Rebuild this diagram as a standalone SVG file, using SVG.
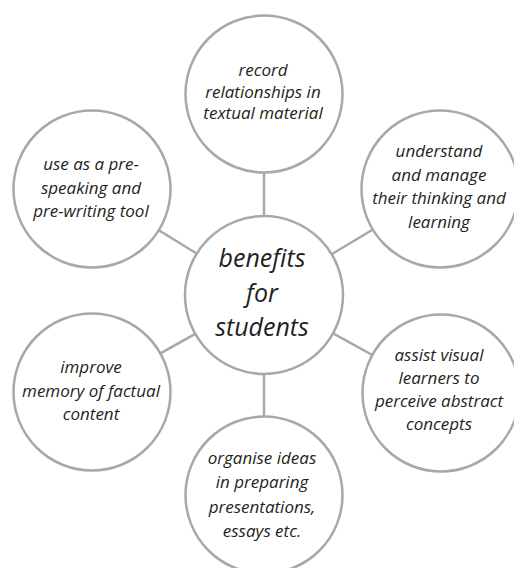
<svg xmlns="http://www.w3.org/2000/svg" width="514" height="568" viewBox="0 0 514 568">
<style>
.c{fill:#ffffff;stroke:#a7a8ab;stroke-width:2.5}
.l{stroke:#a7a8ab;stroke-width:2.5;fill:none}
.t{font-family:"Open Sans","Noto Sans",sans-serif;font-style:italic;font-size:17px;fill:#231f20;text-anchor:middle}
.m{font-size:25px}
</style>
<rect width="514" height="568" fill="#ffffff"/>
<g id="connectors">
<line class="l" x1="264" y1="216" x2="264" y2="172.5"/>
<line class="l" x1="196.7" y1="253.5" x2="158.8" y2="230.2"/>
<line class="l" x1="331.7" y1="254.3" x2="372.8" y2="229.5"/>
<line class="l" x1="195.2" y1="333.8" x2="160.4" y2="353.4"/>
<line class="l" x1="333.1" y1="333.3" x2="372.3" y2="355"/>
<line class="l" x1="264" y1="374" x2="264" y2="416.5"/>
</g>
<g id="center">
<circle class="c" cx="264" cy="295" r="79"/>
<text class="t m" x="262" y="267">benefits</text>
<text class="t m" x="262" y="301.5">for</text>
<text class="t m" x="262" y="335.5">students</text>
</g>
<g id="top">
<circle class="c" cx="264" cy="94" r="78.5"/>
<text class="t" x="263" y="76">record</text>
<text class="t" x="263" y="97.5">relationships in</text>
<text class="t" x="263" y="119">textual material</text>
</g>
<g id="left-top">
<circle class="c" cx="92" cy="189" r="78.5"/>
<text class="t" x="91" y="170">use as a pre-</text>
<text class="t" x="91" y="193.5">speaking and</text>
<text class="t" x="91" y="217">pre-writing tool</text>
</g>
<g id="right-top">
<circle class="c" cx="440" cy="189" r="78.5"/>
<text class="t" x="439" y="157">understand</text>
<text class="t" x="439" y="180.5">and manage</text>
<text class="t" x="439" y="204">their thinking and</text>
<text class="t" x="439" y="227.5">learning</text>
</g>
<g id="left-bottom">
<circle class="c" cx="92" cy="392" r="78.5"/>
<text class="t" x="91" y="373">improve</text>
<text class="t" x="91" y="396.5">memory of factual</text>
<text class="t" x="91" y="420">content</text>
</g>
<g id="right-bottom">
<circle class="c" cx="441" cy="393" r="78.5"/>
<text class="t" x="439" y="361">assist visual</text>
<text class="t" x="439" y="384">learners to</text>
<text class="t" x="439" y="407">perceive abstract</text>
<text class="t" x="439" y="430">concepts</text>
</g>
<g id="bottom">
<circle class="c" cx="264" cy="495" r="78.5"/>
<text class="t" x="262" y="464">organise ideas</text>
<text class="t" x="262" y="488">in preparing</text>
<text class="t" x="262" y="512.5">presentations,</text>
<text class="t" x="262" y="537">essays etc.</text>
</g>
</svg>
